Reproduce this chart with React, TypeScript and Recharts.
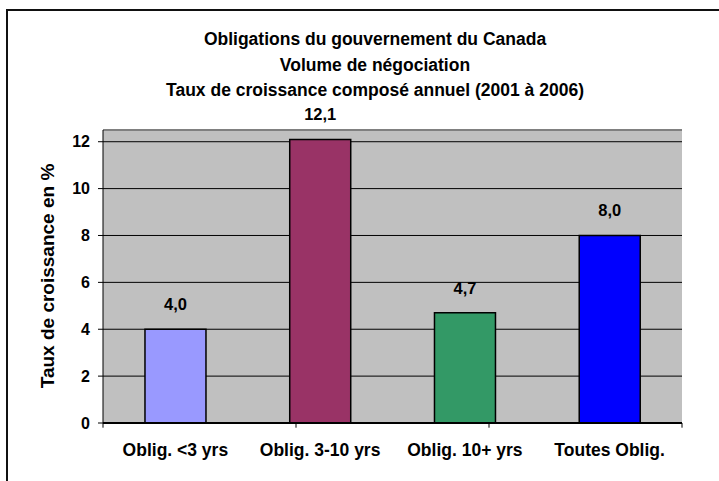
import React from 'react';
import { BarChart, Bar, XAxis, YAxis, CartesianGrid, Cell, LabelList, ReferenceLine } from 'recharts';

const categories = ['Oblig. <3 yrs', 'Oblig. 3-10 yrs', 'Oblig. 10+ yrs', 'Toutes Oblig.'];
const values = [4.0, 12.1, 4.7, 8.0];
const barColors = ['#9999FF', '#993366', '#339966', '#0000FF'];
const yTicks = [0, 2, 4, 6, 8, 10, 12];
const titleLines = [
  'Obligations du gouvernement du Canada',
  'Volume de négociation',
  'Taux de croissance composé annuel  (2001 à 2006)',
];
const yLabel = 'Taux de croissance en %';

const data = categories.map((c, i) => ({ name: c, value: values[i] }));
const boundaries = categories.map((_, i) => i);

const FONT = '"Liberation Sans", Arial, sans-serif';
const tickStyle = { fontFamily: FONT, fontWeight: 700, fontSize: 16, fill: '#000' };
const bigStyle = { fontFamily: FONT, fontWeight: 700, fontSize: 17.5, fill: '#000' };

export default function App() {
  return (
    <div style={{ position: 'absolute', left: 0, top: 0, width: 719, height: 481, overflow: 'hidden', background: '#fff' }}>
      <div style={{ position: 'absolute', left: 6, top: 9, width: 780, height: 560, border: '2px solid #111', boxSizing: 'border-box' }} />
      <div style={{ position: 'absolute', left: 0, top: 0 }}>
        <BarChart width={719} height={481} data={data} margin={{ top: 130, right: 37, bottom: 0, left: 0 }} barCategoryGap="29%">
          <CartesianGrid vertical={false} stroke="#000" fill="#C0C0C0" />
          <XAxis
            dataKey="name"
            height={58}
            tickLine={false}
            tickSize={0}
            tickMargin={21}
            axisLine={{ stroke: '#000', strokeWidth: 2 }}
            tick={bigStyle}
            interval={0}
          />
          <XAxis xAxisId="n" type="number" domain={[0, categories.length]} hide />
          <YAxis
            width={103}
            domain={[0, 12.5]}
            ticks={yTicks}
            tickSize={5}
            tickMargin={8}
            tickLine={{ stroke: '#000' }}
            axisLine={{ stroke: '#000' }}
            tick={tickStyle}
          />
          <ReferenceLine y={12.5} stroke="#808080" strokeWidth={2} ifOverflow="visible" />
          <ReferenceLine
            xAxisId="n"
            segment={[{ x: categories.length, y: -0.2 }, { x: categories.length, y: 12.5 }]}
            stroke="#808080"
            strokeWidth={2}
            ifOverflow="visible"
          />
          {boundaries.map((b) => (
            <ReferenceLine
              key={b}
              xAxisId="n"
              segment={[{ x: b, y: 0 }, { x: b, y: -0.2 }]}
              stroke="#000"
              ifOverflow="visible"
            />
          ))}
          <Bar dataKey="value" isAnimationActive={false} stroke="#000" strokeWidth={1.5}>
            {data.map((d, i) => (
              <Cell key={d.name} fill={barColors[i]} />
            ))}
            <LabelList
              dataKey="value"
              position="top"
              offset={19}
              formatter={(v: any) => Number(v).toFixed(1).replace('.', ',')}
              style={{ ...tickStyle, fontSize: 16.5 }}
            />
          </Bar>
        </BarChart>
      </div>
      <svg width={719} height={481} style={{ position: 'absolute', left: 0, top: 0, pointerEvents: 'none' }}>
        {titleLines.map((t, i) => (
          <text key={i} x={375} y={39 + i * 25.5} textAnchor="middle" dominantBaseline="central" style={bigStyle}>
            {t}
          </text>
        ))}
        <text
          x={47}
          y={276}
          textAnchor="middle"
          dominantBaseline="central"
          transform="rotate(-90 47 276)"
          style={{ ...bigStyle, fontSize: 19 }}
        >
          {yLabel}
        </text>
      </svg>
    </div>
  );
}
